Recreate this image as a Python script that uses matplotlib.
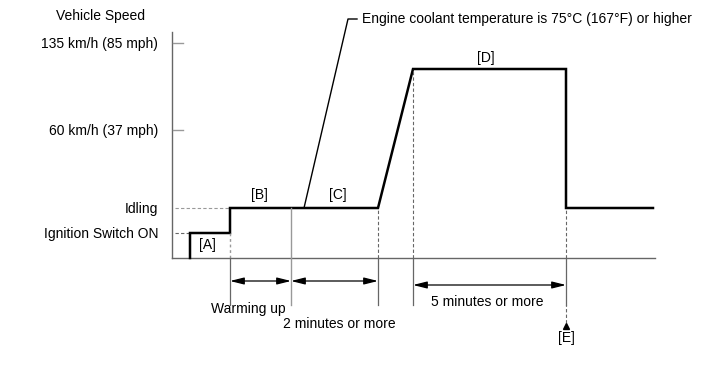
import matplotlib.pyplot as plt

plt.rcParams['font.family'] = ['Liberation Sans', 'DejaVu Sans']

# time axis (schematic units) and speed levels (schematic units)
time = [18, 18, 58, 58, 206, 241, 394, 394, 481]
speed = [0, 25, 25, 50, 50, 189, 189, 50, 50]
level_names = ['135 km/h (85 mph)', '60 km/h (37 mph)', 'Idling', 'Ignition Switch ON']
level_values = [215, 128, 50, 25]
warm_start, warm_end = 58, 119
idle_end = 206
fast_start, fast_end = 241, 394
t_end = 483
y_top = 226

fig = plt.figure(figsize=(7.13, 3.81), dpi=100)
ax = fig.add_axes([0, 0, 1, 1])
ax.set_xlim(-172, 541)
ax.set_ylim(-123, 258)
ax.axis('off')

grey = '#666666'
light = '#999999'

# axes
ax.plot([0, 0], [0, y_top], color=grey, lw=1)
ax.plot([0, t_end], [0, 0], color=grey, lw=1)

# y labels and ticks
ax.text(-72, 242, 'Vehicle Speed', ha='center', va='center', fontsize=10)
for name, v in zip(level_names, level_values):
    ax.text(-14, v - 1, name, ha='right', va='center', fontsize=10)
for v in level_values[:2]:
    ax.plot([1, 11], [v, v], color=light, lw=1)
ax.plot([3, warm_start], [50, 50], color=light, lw=0.8, ls=(0, (3, 2)))
ax.plot([3, 18], [25, 25], color=grey, lw=0.8, ls=(0, (3, 2)))

# speed line
ax.plot(time, speed, color='black', lw=1.8, solid_joinstyle='miter')

# guide lines
ax.plot([warm_start, warm_start], [0, 25], color=light, lw=1, ls=(0, (2, 2)))
ax.plot([warm_start, warm_start], [-47, 0], color=grey, lw=0.9)
ax.plot([warm_end, warm_end], [-47, 50], color=light, lw=1)
for t, top in [(idle_end, 50), (fast_start, 189), (fast_end, 50)]:
    ax.plot([t, t], [0, top], color=grey, lw=0.8, ls=(0, (3, 2)))
for t in [idle_end, fast_start, fast_end]:
    ax.plot([t, t], [-47, 0], color=grey, lw=0.9)
ax.plot([fast_end, fast_end], [-65, -47], color=grey, lw=0.8, ls=(0, (3, 2)))

# dimension arrows
arrow = dict(arrowstyle='<|-|>,head_length=0.6,head_width=0.15', color='black', lw=0.9,
             mutation_scale=14, shrinkA=0, shrinkB=0)
ax.annotate('', xy=(warm_start, -23), xytext=(warm_end, -23), arrowprops=arrow)
ax.annotate('', xy=(warm_end, -23), xytext=(idle_end, -23), arrowprops=arrow)
ax.annotate('', xy=(fast_start, -27), xytext=(fast_end, -27), arrowprops=arrow)
ax.text(76, -51, 'Warming up', ha='center', va='center', fontsize=10)
ax.text(167, -66, '2 minutes or more', ha='center', va='center', fontsize=10)
ax.text(315, -44, '5 minutes or more', ha='center', va='center', fontsize=10)
ax.plot([fast_end], [-68], marker='^', color='black', ms=5)
ax.text(fast_end, -80, '[E]', ha='center', va='center', fontsize=10)

# phase labels
ax.text(35, 13, '[A]', ha='center', va='center', fontsize=10)
ax.text(87, 63, '[B]', ha='center', va='center', fontsize=10)
ax.text(166, 63, '[C]', ha='center', va='center', fontsize=10)
ax.text(314, 200, '[D]', ha='center', va='center', fontsize=10)

# leader line
ax.plot([132, 176, 185], [50, 239, 239], color='black', lw=1)
ax.text(190, 239, 'Engine coolant temperature is 75°C (167°F) or higher',
        ha='left', va='center', fontsize=10)

fig.savefig('out.png', dpi=100)
